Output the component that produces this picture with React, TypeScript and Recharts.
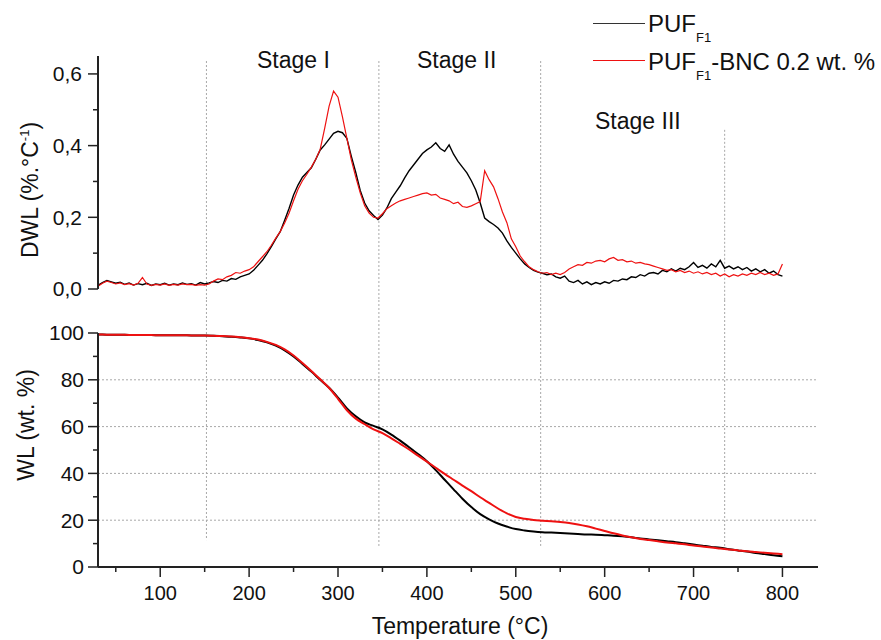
import React from "react";
import { LineChart, Line, XAxis, YAxis, ReferenceLine } from "recharts";

const FONT = "Arial, 'Liberation Sans', sans-serif";
const AXIS = "#222";
const RED = "#ee1111";
const DOTS = "#a8a8a8";

// temperature grid of the derivative curves (°C)
const tempDwl = [
  30, 35, 40, 45, 50, 55, 60, 65, 70, 75,
  80, 85, 90, 95, 100, 105, 110, 115, 120, 125,
  130, 135, 140, 145, 150, 155, 160, 165, 170, 175,
  180, 185, 190, 195, 200, 205, 210, 215, 220, 225,
  230, 235, 240, 245, 250, 255, 260, 265, 270, 275,
  280, 285, 290, 295, 300, 305, 310, 315, 320, 325,
  330, 335, 340, 345, 350, 355, 360, 365, 370, 375,
  380, 385, 390, 395, 400, 405, 410, 415, 420, 425,
  430, 435, 440, 445, 450, 455, 460, 465, 470, 475,
  480, 485, 490, 495, 500, 505, 510, 515, 520, 525,
  530, 535, 540, 545, 550, 555, 560, 565, 570, 575,
  580, 585, 590, 595, 600, 605, 610, 615, 620, 625,
  630, 635, 640, 645, 650, 655, 660, 665, 670, 675,
  680, 685, 690, 695, 700, 705, 710, 715, 720, 725,
  730, 735, 740, 745, 750, 755, 760, 765, 770, 775,
  780, 785, 790, 795, 800,
];

// DWL (%.°C-1), PUF F1
const dwlPuf = [
  0.010, 0.018, 0.024, 0.020, 0.016, 0.019, 0.013, 0.017, 0.011, 0.015,
  0.012, 0.016, 0.010, 0.014, 0.012, 0.016, 0.011, 0.014, 0.012, 0.017,
  0.013, 0.015, 0.011, 0.018, 0.014, 0.017, 0.021, 0.018, 0.024, 0.022,
  0.029, 0.027, 0.034, 0.038, 0.042, 0.052, 0.066, 0.080, 0.098, 0.118,
  0.140, 0.160, 0.192, 0.225, 0.262, 0.290, 0.312, 0.325, 0.338, 0.362,
  0.388, 0.402, 0.418, 0.434, 0.440, 0.436, 0.420, 0.370, 0.325, 0.275,
  0.240, 0.218, 0.205, 0.194, 0.206, 0.226, 0.252, 0.270, 0.288, 0.310,
  0.330, 0.346, 0.362, 0.378, 0.388, 0.396, 0.408, 0.392, 0.384, 0.402,
  0.376, 0.356, 0.340, 0.324, 0.302, 0.276, 0.240, 0.198, 0.188, 0.180,
  0.170, 0.156, 0.134, 0.116, 0.100, 0.084, 0.070, 0.060, 0.052, 0.047,
  0.044, 0.040, 0.042, 0.034, 0.030, 0.036, 0.022, 0.018, 0.024, 0.014,
  0.020, 0.012, 0.018, 0.014, 0.020, 0.016, 0.024, 0.022, 0.028, 0.026,
  0.034, 0.032, 0.040, 0.036, 0.044, 0.046, 0.042, 0.052, 0.048, 0.056,
  0.050, 0.058, 0.054, 0.062, 0.074, 0.060, 0.066, 0.058, 0.070, 0.062,
  0.080, 0.058, 0.064, 0.056, 0.062, 0.054, 0.060, 0.050, 0.056, 0.048,
  0.054, 0.044, 0.050, 0.040, 0.036,
];

// DWL (%.°C-1), PUF F1-BNC 0.2 wt. %
const dwlBnc = [
  0.008, 0.016, 0.022, 0.018, 0.014, 0.017, 0.012, 0.015, 0.011, 0.016,
  0.032, 0.014, 0.010, 0.013, 0.011, 0.014, 0.010, 0.013, 0.011, 0.014,
  0.012, 0.013, 0.010, 0.012, 0.011, 0.014, 0.022, 0.028, 0.026, 0.034,
  0.038, 0.046, 0.044, 0.050, 0.054, 0.062, 0.076, 0.090, 0.104, 0.122,
  0.142, 0.160, 0.184, 0.212, 0.246, 0.278, 0.302, 0.320, 0.340, 0.362,
  0.390, 0.448, 0.510, 0.552, 0.535, 0.480, 0.420, 0.360, 0.312, 0.268,
  0.232, 0.212, 0.200, 0.198, 0.210, 0.224, 0.232, 0.240, 0.246, 0.250,
  0.254, 0.258, 0.262, 0.266, 0.268, 0.262, 0.264, 0.254, 0.250, 0.246,
  0.238, 0.242, 0.230, 0.228, 0.232, 0.238, 0.244, 0.330, 0.305, 0.285,
  0.252, 0.215, 0.185, 0.140, 0.118, 0.092, 0.076, 0.062, 0.054, 0.048,
  0.044, 0.046, 0.040, 0.044, 0.040, 0.046, 0.056, 0.062, 0.068, 0.066,
  0.074, 0.072, 0.078, 0.080, 0.076, 0.084, 0.088, 0.080, 0.082, 0.076,
  0.078, 0.072, 0.074, 0.070, 0.068, 0.064, 0.060, 0.056, 0.052, 0.054,
  0.048, 0.052, 0.046, 0.050, 0.044, 0.048, 0.042, 0.046, 0.040, 0.044,
  0.036, 0.042, 0.034, 0.040, 0.036, 0.042, 0.038, 0.044, 0.040, 0.046,
  0.040, 0.044, 0.038, 0.042, 0.070,
];

// temperature grid of the weight curves (°C)
const tempWl = [
  30, 40, 50, 60, 70, 80, 90, 100, 110, 120,
  130, 140, 150, 160, 170, 180, 190, 200, 210, 220,
  230, 240, 250, 260, 270, 280, 290, 300, 310, 320,
  330, 340, 350, 360, 370, 380, 390, 400, 410, 420,
  430, 440, 450, 460, 470, 480, 490, 500, 510, 520,
  530, 540, 550, 560, 570, 580, 590, 600, 610, 620,
  630, 640, 650, 660, 670, 680, 690, 700, 710, 720,
  730, 740, 750, 760, 770, 780, 790, 800,
];

// WL (wt. %)
const wlPuf = [
  99.4, 99.3, 99.2, 99.2, 99.1, 99.1, 99.1, 99.0, 99.0, 99.0,
  99.0, 98.9, 98.9, 98.8, 98.6, 98.4, 98.1, 97.7, 97.0, 96.0,
  94.6, 92.6, 90.0, 86.8, 83.5, 80.0, 76.6, 72.4, 67.8, 64.4,
  61.8, 60.3, 58.8, 56.6, 54.0, 51.2, 48.3, 45.2, 41.4, 37.3,
  33.2, 29.2, 25.6, 22.6, 20.4, 18.6, 17.3, 16.2, 15.6, 15.2,
  14.9, 14.7, 14.5, 14.3, 14.1, 13.9, 13.8, 13.6, 13.4, 13.1,
  12.7, 12.2, 11.8, 11.4, 11.0, 10.6, 10.1, 9.6, 9.1, 8.6,
  8.2, 7.6, 7.1, 6.6, 6.0, 5.5, 5.0, 4.6,
];

const wlBnc = [
  99.4, 99.3, 99.2, 99.2, 99.1, 99.1, 99.1, 99.0, 99.0, 99.0,
  99.0, 98.9, 98.9, 98.8, 98.7, 98.5, 98.2, 97.8, 97.2, 96.2,
  94.9, 93.0, 90.4, 87.2, 83.8, 80.2, 76.5, 71.9, 67.0, 63.4,
  61.0, 58.8, 57.2, 55.0, 52.6, 50.2, 47.6, 45.0, 42.4, 39.8,
  37.3, 34.8, 32.4, 29.8, 27.4, 25.0, 22.9, 21.4, 20.6, 20.1,
  19.8, 19.5, 19.2, 18.8, 18.2, 17.4, 16.4, 15.4, 14.4, 13.5,
  12.7, 12.0, 11.5, 11.0, 10.5, 10.1, 9.7, 9.2, 8.8, 8.3,
  7.9, 7.5, 7.1, 6.7, 6.4, 6.1, 5.8, 5.5,
];

const xTicks = [50, 100, 150, 200, 250, 300, 350, 400, 450, 500, 550, 600, 650, 700, 750, 800];
const xLabelled = [100, 200, 300, 400, 500, 600, 700, 800];
const dwlTicks = [0, 0.1, 0.2, 0.3, 0.4, 0.5, 0.6];
const dwlLabelled = [0, 0.2, 0.4, 0.6];
const wlTicks = [0, 10, 20, 30, 40, 50, 60, 70, 80, 90, 100];
const wlLabelled = [0, 20, 40, 60, 80, 100];
const wlGrid = [20, 40, 60, 80];

// dotted stage separators
const stageTemps = [152, 346, 528, 735];
const stageTopDwl = [0.636, 0.636, 0.636, 0.444];
const stageBottomWl = [11.5, 9, 9, 9];
const stageNames = ["Stage I", "Stage II", "Stage III"];

const dwlData = tempDwl.map((t, i) => ({ t, puf: dwlPuf[i], bnc: dwlBnc[i] }));
const wlData = tempWl.map((t, i) => ({ t, puf: wlPuf[i], bnc: wlBnc[i] }));

const XTick = (props: any) => {
  const { x, y, payload } = props;
  const major = xLabelled.includes(payload.value);
  const axisY = y - 19;
  return (
    <g>
      <line x1={x} x2={x} y1={axisY} y2={axisY + (major ? 10 : 5)} stroke={AXIS} strokeWidth={1.5} />
      {major && (
        <text x={x} y={y} dy="0.71em" textAnchor="middle" fontSize={20} fontFamily={FONT} fill="#111">
          {payload.value}
        </text>
      )}
    </g>
  );
};

const YTick = (props: any) => {
  const { x, y, payload, labelled, margin, fmt } = props;
  const axisX = x + 10 + margin;
  const major = labelled.includes(payload.value);
  return (
    <g>
      <line x1={axisX - (major ? 10 : 5)} x2={axisX} y1={y} y2={y} stroke={AXIS} strokeWidth={1.5} />
      {major && (
        <text x={x} y={y} dy="0.355em" textAnchor="end" fontSize={21} fontFamily={FONT} fill="#111">
          {fmt(payload.value)}
        </text>
      )}
    </g>
  );
};

const DwlTitle = () => (
  <text x={38} y={190} transform="rotate(-90, 38, 190)" textAnchor="middle" fontSize={23} fontFamily={FONT} fill="#111">
    DWL (%.°C
    <tspan fontSize={13} dy={-9}>-1</tspan>
    <tspan dy={9}>)</tspan>
  </text>
);

const WlTitle = () => (
  <text x={34} y={125} transform="rotate(-90, 34, 125)" textAnchor="middle" fontSize={23} fontFamily={FONT} fill="#111">
    WL (wt. %)
  </text>
);

const TempTitle = () => (
  <text x={460} y={334} textAnchor="middle" fontSize={23} fontFamily={FONT} fill="#111">
    Temperature (°C)
  </text>
);

const stagePos = [
  { left: 257, top: 48.5 },
  { left: 417, top: 48.5 },
  { left: 595, top: 109.5 },
];

export default function App() {
  return (
    <div style={{ position: "absolute", left: 0, top: 0, width: 881, height: 640, background: "#fff", fontFamily: FONT }}>
      <div style={{ position: "absolute", left: 0, top: 0 }}>
        <LineChart width={881} height={300} data={dwlData} margin={{ top: 56, right: 63, bottom: 11, left: 38 }}>
          <XAxis dataKey="t" type="number" domain={[30, 840]} hide allowDataOverflow />
          <YAxis
            type="number"
            domain={[0, 0.65]}
            allowDataOverflow
            width={60}
            ticks={dwlTicks}
            interval={0}
            tickLine={false}
            tickSize={10}
            tickMargin={6}
            axisLine={{ stroke: AXIS, strokeWidth: 2 }}
            tick={(p: any) => (
              <YTick {...p} labelled={dwlLabelled} margin={6} fmt={(v: number) => v.toFixed(1).replace(".", ",")} />
            )}
            label={<DwlTitle />}
          />
          {stageTemps.map((t, i) => (
            <ReferenceLine
              key={t}
              segment={[{ x: t, y: stageTopDwl[i] }, { x: t, y: -0.031 }]}
              stroke={DOTS}
              strokeDasharray="2 2"
              ifOverflow="visible"
            />
          ))}
          <Line dataKey="puf" stroke="#000" strokeWidth={1.4} dot={false} activeDot={false} isAnimationActive={false} type="linear" />
          <Line dataKey="bnc" stroke={RED} strokeWidth={1.2} dot={false} activeDot={false} isAnimationActive={false} type="linear" />
        </LineChart>
      </div>
      <div style={{ position: "absolute", left: 0, top: 300 }}>
        <LineChart width={881} height={340} data={wlData} margin={{ top: 33, right: 63, bottom: 0, left: 38 }}>
          <XAxis
            dataKey="t"
            type="number"
            domain={[30, 840]}
            allowDataOverflow
            height={73}
            ticks={xTicks}
            interval={0}
            tickLine={false}
            tickSize={10}
            tickMargin={9}
            axisLine={{ stroke: AXIS, strokeWidth: 2 }}
            tick={(p: any) => <XTick {...p} />}
            label={<TempTitle />}
          />
          <YAxis
            type="number"
            domain={[0, 100]}
            allowDataOverflow
            width={60}
            ticks={wlTicks}
            interval={0}
            tickLine={false}
            tickSize={10}
            tickMargin={4}
            axisLine={{ stroke: AXIS, strokeWidth: 2 }}
            tick={(p: any) => <YTick {...p} labelled={wlLabelled} margin={4} fmt={(v: number) => String(v)} />}
            label={<WlTitle />}
          />
          {wlGrid.map((v) => (
            <ReferenceLine key={v} y={v} stroke={DOTS} strokeDasharray="2 2" />
          ))}
          {stageTemps.map((t, i) => (
            <ReferenceLine
              key={t}
              segment={[{ x: t, y: 114.1 }, { x: t, y: stageBottomWl[i] }]}
              stroke={DOTS}
              strokeDasharray="2 2"
              ifOverflow="visible"
            />
          ))}
          <Line dataKey="puf" stroke="#000" strokeWidth={2} dot={false} activeDot={false} isAnimationActive={false} type="monotone" />
          <Line dataKey="bnc" stroke={RED} strokeWidth={2} dot={false} activeDot={false} isAnimationActive={false} type="monotone" />
        </LineChart>
      </div>

      {stageNames.map((name, i) => (
        <div
          key={name}
          style={{ position: "absolute", left: stagePos[i].left, top: stagePos[i].top, fontSize: 23, lineHeight: "23px", color: "#111", whiteSpace: "nowrap" }}
        >
          {name}
        </div>
      ))}

      <div style={{ position: "absolute", left: 593, top: 23, width: 52, height: 1, background: "#333" }} />
      <div style={{ position: "absolute", left: 648, top: 11.7, fontSize: 24, lineHeight: "24px", color: "#111", whiteSpace: "nowrap" }}>
        PUF<span style={{ fontSize: 13, verticalAlign: -10 }}>F1</span>
      </div>
      <div style={{ position: "absolute", left: 593, top: 60, width: 52, height: 1, background: RED }} />
      <div style={{ position: "absolute", left: 648, top: 49.7, fontSize: 24, lineHeight: "24px", color: "#111", whiteSpace: "nowrap" }}>
        PUF<span style={{ fontSize: 13, verticalAlign: -10 }}>F1</span>-BNC 0.2 wt. %
      </div>
    </div>
  );
}
